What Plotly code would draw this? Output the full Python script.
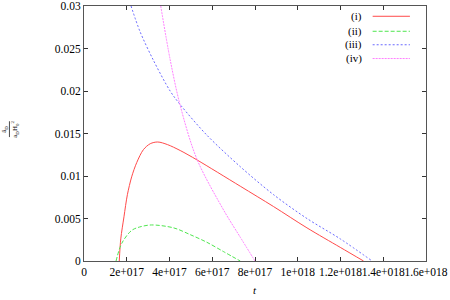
import plotly.graph_objects as go

# ---- data ----
t_i = [1.65e17, 1.72e17, 1.87e17, 2.03e17, 2.23e17, 2.47e17, 2.78e17, 3.1e17, 3.45e17,
       3.9e17, 4.5e17, 5.28e17, 7.31e17, 8.87e17, 1.043e18, 1.199e18, 1.308e18]
y_i = [0.0, 0.0026, 0.0052, 0.0078, 0.0099, 0.0116, 0.0131, 0.0138, 0.0140,
       0.0137, 0.0130, 0.0119, 0.0088, 0.0064, 0.0039, 0.0016, 0.0]

t_ii = [1.5e17, 1.77e17, 2.23e17, 2.6e17, 3.15e17, 4.19e17, 4.97e17, 5.75e17, 6.53e17, 7.31e17]
y_ii = [0.0, 0.0021, 0.0036, 0.0040, 0.00424, 0.0039, 0.0031, 0.0022, 0.0011, 0.0]

t_iii = [2.2e17, 2.62e17, 3.25e17, 4.03e17, 4.5e17, 5.75e17, 7.31e17, 8.87e17,
         1.043e18, 1.199e18, 1.348e18]
y_iii = [0.0300, 0.0270, 0.0236, 0.0200, 0.0184, 0.0148, 0.0111, 0.0078,
         0.0050, 0.0026, 0.0]

t_iv = [3.59e17, 4.03e17, 4.5e17, 5.28e17, 6.53e17, 7.31e17, 8.0e17]
y_iv = [0.0300, 0.0237, 0.0183, 0.0120, 0.0060, 0.0028, 0.0]

series_names = ["(i)", "(ii)", "(iii)", "(iv)"]
series_colors = ["#ff4a4a", "#4ee64e", "#6a6aff", "#ff80ff"]
series_dash = ["solid", "4px,2px", "2px,2px", "2px,1px"]

x_tickvals = [0, 2e17, 4e17, 6e17, 8e17, 1e18, 1.2e18, 1.4e18, 1.6e18]
x_ticktext = ["0", "2e+017", "4e+017", "6e+017", "8e+017", "1e+018", "1.2e+018", "1.4e+018", "1.6e+018"]
y_tickvals = [0, 0.005, 0.01, 0.015, 0.02, 0.025, 0.03]
y_ticktext = ["0", "0.005", "0.01", "0.015", "0.02", "0.025", "0.03"]

FONT = "Liberation Serif, Times New Roman, serif"

fig = go.Figure()
for tx, ty, c, d in zip([t_i, t_ii, t_iii, t_iv], [y_i, y_ii, y_iii, y_iv], series_colors, series_dash):
    fig.add_trace(go.Scatter(x=tx, y=ty, mode="lines",
                             line=dict(color=c, width=1, dash=d, shape="spline", smoothing=0.9),
                             showlegend=False, hoverinfo="skip", cliponaxis=True))

# gnuplot-style key: text right-aligned, sample line to the right
key_y = [0.9597, 0.9009, 0.848, 0.794]
for name, c, d, ky in zip(series_names, series_colors, series_dash, key_y):
    fig.add_annotation(xref="paper", yref="paper", x=0.8187, y=ky, text=name,
                       showarrow=False, xanchor="right", yanchor="middle",
                       font=dict(family=FONT, size=11, color="black"))
    fig.add_shape(type="line", xref="paper", yref="paper", x0=0.844, x1=0.953, y0=ky, y1=ky,
                  line=dict(color=c, width=1, dash=d))

# axis labels
fig.add_annotation(xref="paper", yref="paper", x=0.5, y=-0.113, text="<i>t</i>",
                   showarrow=False, xanchor="center", yanchor="middle",
                   font=dict(family=FONT, size=11, color="black"))
fig.add_annotation(xref="paper", yref="paper", x=-0.232, y=0.517, text="ä<sub>D</sub>",
                   showarrow=False, textangle=-90, xanchor="center", yanchor="middle",
                   font=dict(family=FONT, size=7, color="black"))
fig.add_annotation(xref="paper", yref="paper", x=-0.203, y=0.517,
                   text="a<sub>D</sub>H<sub>0</sub><sup>2</sup>",
                   showarrow=False, textangle=-90, xanchor="center", yanchor="middle",
                   font=dict(family=FONT, size=7, color="black"))
fig.add_shape(type="line", xref="paper", yref="paper", x0=-0.218, x1=-0.218, y0=0.486, y1=0.548,
              line=dict(color="black", width=0.7))

axis_common = dict(showgrid=False, zeroline=False, showline=True, linecolor="#555555",
                   linewidth=1, mirror="ticks", ticks="inside", ticklen=4, tickcolor="#333333",
                   ticklabeloverflow="allow",
                   tickfont=dict(family=FONT, size=11.5, color="black"))
fig.update_xaxes(range=[0, 1.6e18], tickmode="array", tickvals=x_tickvals, ticktext=x_ticktext,
                 tickangle=0, automargin=False, **axis_common)
fig.update_yaxes(range=[0, 0.03], tickmode="array", tickvals=y_tickvals, ticktext=y_ticktext,
                 automargin=False, **axis_common)

fig.update_layout(width=450, height=300, margin=dict(l=84, r=24, t=6, b=39),
                  plot_bgcolor="white", paper_bgcolor="white")

fig.write_html("out.html", config={"displayModeBar": False},
               post_script="document.body.style.margin='0';document.body.style.overflow='hidden';")
